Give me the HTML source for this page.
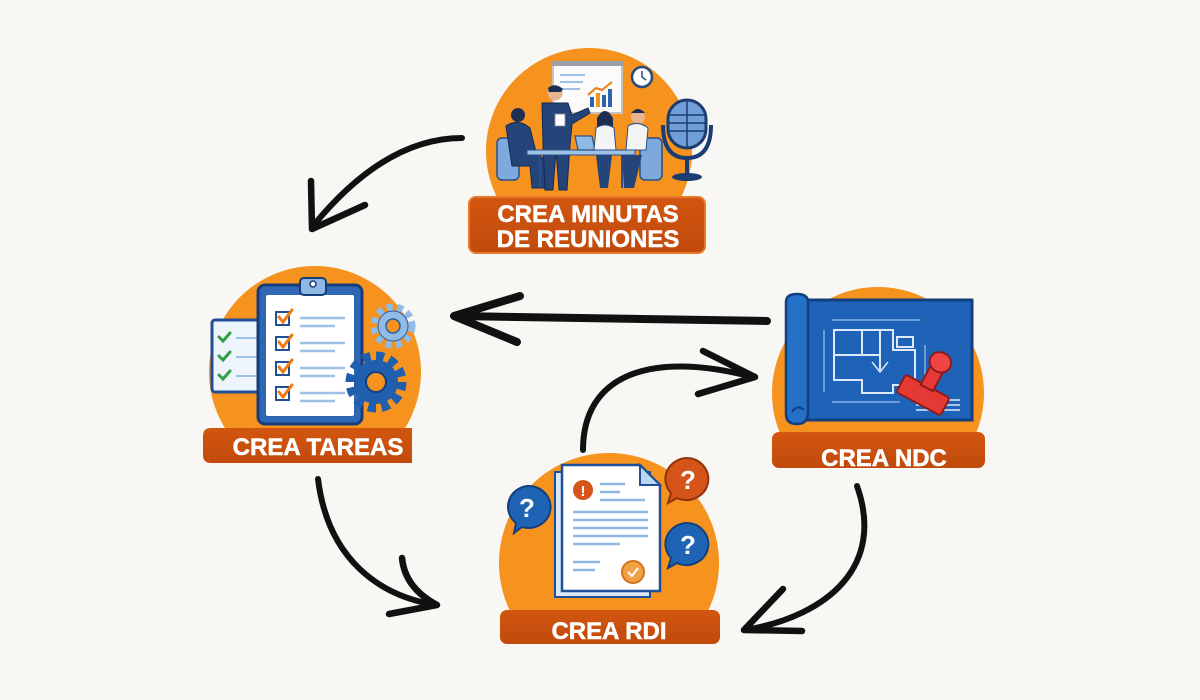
<!DOCTYPE html>
<html><head><meta charset="utf-8"><style>
html,body{margin:0;padding:0;background:#f8f7f4;}
svg{display:block;}
.lbl{font-family:"Liberation Sans",Arial,sans-serif;font-weight:bold;font-size:24px;fill:#ffffff;stroke:#ffffff;stroke-width:0.5;text-anchor:middle;}
</style></head><body>
<svg width="1200" height="700" viewBox="0 0 1200 700" xmlns="http://www.w3.org/2000/svg">
<defs>
<clipPath id="c1"><rect x="0" y="0" width="1200" height="250"/></clipPath>
<clipPath id="c2"><rect x="0" y="200" width="1200" height="260"/></clipPath>
<clipPath id="c3"><rect x="0" y="200" width="1200" height="265"/></clipPath>
<clipPath id="c4"><rect x="0" y="400" width="1200" height="240"/></clipPath>
<linearGradient id="lg" x1="0" y1="0" x2="0" y2="1"><stop offset="0" stop-color="#d2560f"/><stop offset="1" stop-color="#c14a0c"/></linearGradient>
</defs>
<rect width="1200" height="700" fill="#f8f7f4"/>

<!-- ARROWS -->
<g fill="none" stroke="#111" stroke-linecap="round" stroke-linejoin="round">
<path d="M462,138 Q385,138 313,226" stroke-width="6"/>
<path d="M311,181 L312,229 L365,205" stroke-width="6.5"/>
<path d="M767,321 Q600,318 456,316" stroke-width="8"/>
<path d="M520,296 L454,316 L517,342" stroke-width="8"/>
<path d="M583,450 C583,375 650,350 753,377" stroke-width="6"/>
<path d="M703,351 L755,377 L698,394" stroke-width="6.5"/>
<path d="M318,479 C328,560 380,596 436,605" stroke-width="6"/>
<path d="M402,558 Q405,588 437,605 L389,614" stroke-width="6.5"/>
<path d="M857,486 C885,565 830,615 746,630" stroke-width="6"/>
<path d="M783,589 L744,630 L802,631" stroke-width="6.5"/>
</g>

<!-- NODE 1 : MINUTAS -->
<g clip-path="url(#c1)"><circle cx="589" cy="151" r="103" fill="#f6921e"/></g>
<rect x="553" y="63" width="69" height="50" fill="#fbfbfb" stroke="#c8c2b8" stroke-width="2"/>
<rect x="551" y="61" width="73" height="5" fill="#9aa0a8"/>
<g stroke="#9cc0e6" stroke-width="2"><line x1="560" y1="75" x2="585" y2="75"/><line x1="560" y1="82" x2="583" y2="82"/><line x1="560" y1="89" x2="580" y2="89"/></g>
<rect x="590" y="97" width="4" height="10" fill="#2c64b0"/><rect x="596" y="93" width="4" height="14" fill="#f6921e"/><rect x="602" y="95" width="4" height="12" fill="#2c64b0"/><rect x="608" y="89" width="4" height="18" fill="#2c64b0"/>
<path d="M588,95 L596,88 L602,90 L612,82" fill="none" stroke="#f07a10" stroke-width="2"/>
<circle cx="642" cy="77" r="10" fill="#fff" stroke="#2a4a7a" stroke-width="2.5"/>
<path d="M642,71 L642,77 L646,80" stroke="#2a4a7a" stroke-width="1.5" fill="none"/>
<rect x="497" y="138" width="22" height="42" rx="5" fill="#7ea9dc" stroke="#2a4f8a" stroke-width="1.5"/>
<rect x="640" y="138" width="22" height="42" rx="5" fill="#7ea9dc" stroke="#2a4f8a" stroke-width="1.5"/>
<circle cx="518" cy="115" r="7" fill="#1d2f50"/>
<path d="M506,126 Q518,118 530,128 L536,152 L545,160 L545,188 L532,188 L530,166 L512,166 Z" fill="#24447a" stroke="#142a52" stroke-width="1"/>
<circle cx="555" cy="93" r="7.5" fill="#e7b48e"/>
<path d="M548,88 Q555,82 563,89 L561,92 L549,92 Z" fill="#1d2f50"/>
<path d="M542,103 L568,103 L572,115 L588,108 L590,113 L572,124 L570,145 L567,190 L559,190 L556,150 L553,190 L545,190 L543,145 Z" fill="#24447a" stroke="#142a52" stroke-width="1"/>
<rect x="555" y="114" width="10" height="12" fill="#fff" stroke="#888" stroke-width="0.8"/>
<rect x="527" y="150" width="108" height="5" fill="#9cc3e6" stroke="#2a4f8a" stroke-width="1"/>
<line x1="540" y1="155" x2="540" y2="188" stroke="#2a4f8a" stroke-width="2"/>
<line x1="622" y1="155" x2="622" y2="188" stroke="#2a4f8a" stroke-width="2"/>
<path d="M575,136 L592,136 L595,150 L578,150 Z" fill="#8fb8e4" stroke="#2a4f8a" stroke-width="1.2"/>
<circle cx="605" cy="118" r="7" fill="#e7b48e"/>
<path d="M597,118 Q605,104 613,118 L613,130 L597,130 Z" fill="#1d2f50"/>
<path d="M596,128 Q605,122 614,128 L616,150 L594,150 Z" fill="#f4f4f4" stroke="#2a4f8a" stroke-width="1"/>
<path d="M596,155 L612,155 L608,188 L600,188 Z" fill="#24447a"/>
<circle cx="638" cy="117" r="7" fill="#e7b48e"/>
<path d="M631,113 Q638,105 645,113 Z" fill="#1d2f50"/>
<path d="M628,126 Q638,120 648,128 L646,150 L626,150 Z" fill="#f4f4f4" stroke="#2a4f8a" stroke-width="1"/>
<path d="M622,155 L642,155 L634,188 L624,188 Z" fill="#24447a"/>
<rect x="668" y="100" width="38" height="48" rx="19" fill="#6f9fd6" stroke="#1b3d72" stroke-width="3"/>
<g stroke="#1b3d72" stroke-width="1.5"><line x1="670" y1="115" x2="704" y2="115"/><line x1="669" y1="123" x2="705" y2="123"/><line x1="669" y1="131" x2="705" y2="131"/><line x1="687" y1="101" x2="687" y2="147"/></g>
<path d="M663,125 Q663,158 687,158 Q711,158 711,125" fill="none" stroke="#1b3d72" stroke-width="4"/>
<line x1="687" y1="158" x2="687" y2="174" stroke="#1b3d72" stroke-width="4"/>
<ellipse cx="687" cy="177" rx="15" ry="4" fill="#1b3d72"/>
<rect x="469" y="197" width="236" height="56" rx="7" fill="url(#lg)" stroke="#e8782a" stroke-width="2"/>
<text class="lbl" x="588" y="222">CREA MINUTAS</text>
<text class="lbl" x="588" y="247">DE REUNIONES</text>

<!-- NODE 2 : TAREAS -->
<g clip-path="url(#c2)"><circle cx="315" cy="372" r="106" fill="#f6921e"/></g>
<rect x="212" y="320" width="50" height="72" rx="3" fill="#eef4fb" stroke="#1f4f96" stroke-width="3"/>
<g stroke="#2fa045" stroke-width="3" fill="none" stroke-linecap="round"><path d="M219,337 L223,341 L230,333"/><path d="M219,356 L223,360 L230,352"/><path d="M219,375 L223,379 L230,371"/></g>
<g stroke="#9cc0e6" stroke-width="2"><line x1="236" y1="338" x2="258" y2="338"/><line x1="236" y1="357" x2="258" y2="357"/><line x1="236" y1="376" x2="258" y2="376"/></g>
<rect x="258" y="285" width="104" height="139" rx="7" fill="#2f67b4" stroke="#163d7a" stroke-width="3"/>
<rect x="266" y="295" width="88" height="121" rx="2" fill="#ffffff"/>
<rect x="300" y="278" width="26" height="17" rx="4" fill="#8fb8e4" stroke="#163d7a" stroke-width="2"/>
<circle cx="313" cy="284" r="3" fill="#fff" stroke="#163d7a" stroke-width="1.5"/>
<g fill="#fff" stroke="#1f4f96" stroke-width="2"><rect x="276" y="312" width="13" height="13"/><rect x="276" y="337" width="13" height="13"/><rect x="276" y="362" width="13" height="13"/><rect x="276" y="387" width="13" height="13"/></g>
<g stroke="#f07a10" stroke-width="3" fill="none" stroke-linecap="round"><path d="M279,317 L283,322 L292,310"/><path d="M279,342 L283,347 L292,335"/><path d="M279,367 L283,372 L292,360"/><path d="M279,392 L283,397 L292,385"/></g>
<g stroke="#9cc0e6" stroke-width="2.5"><line x1="300" y1="318" x2="345" y2="318"/><line x1="300" y1="326" x2="335" y2="326"/><line x1="300" y1="343" x2="345" y2="343"/><line x1="300" y1="351" x2="335" y2="351"/><line x1="300" y1="368" x2="345" y2="368"/><line x1="300" y1="376" x2="335" y2="376"/><line x1="300" y1="393" x2="345" y2="393"/><line x1="300" y1="401" x2="335" y2="401"/></g>
<circle cx="393" cy="326" r="19" fill="none" stroke="#8fbbe6" stroke-width="7" stroke-dasharray="6 4.4"/>
<circle cx="393" cy="326" r="15" fill="#8fbbe6" stroke="#2f5f9e" stroke-width="1"/>
<circle cx="393" cy="326" r="7" fill="#f6921e" stroke="#2f5f9e" stroke-width="1.5"/>
<circle cx="376" cy="382" r="26" fill="none" stroke="#1f5fae" stroke-width="9" stroke-dasharray="8 5.6"/>
<circle cx="376" cy="382" r="22" fill="#1f5fae"/>
<circle cx="376" cy="382" r="10" fill="#f6921e" stroke="#143f80" stroke-width="2"/>
<path d="M211,428 L412,428 L412,463 L211,463 Q203,463 203,455 L203,436 Q203,428 211,428 Z" fill="url(#lg)"/>
<text class="lbl" x="318" y="455">CREA TAREAS</text>

<!-- NODE 3 : NDC -->
<g clip-path="url(#c3)"><circle cx="878" cy="393" r="106" fill="#f6921e"/></g>
<rect x="790" y="300" width="182" height="120" fill="#1e63b8" stroke="#133f7e" stroke-width="3"/>
<path d="M786,302 Q786,294 797,294 Q808,294 808,302 L808,412 Q808,424 797,424 Q786,424 786,414 Z" fill="#2470c6" stroke="#133f7e" stroke-width="2.5"/>
<path d="M792,412 Q797,404 804,410" fill="none" stroke="#133f7e" stroke-width="2"/>
<g fill="none" stroke="#dbe9fb" stroke-width="2">
<path d="M834,330 L893,330 L893,350 L915,350 L915,385 L893,385 L893,393 L862,393 L862,380 L834,380 Z"/>
<line x1="834" y1="355" x2="880" y2="355"/>
<line x1="862" y1="330" x2="862" y2="355"/>
<line x1="880" y1="330" x2="880" y2="370"/>
<path d="M872,362 L880,372 L888,362" stroke-width="1.5"/>
<rect x="897" y="337" width="16" height="10"/>
</g>
<g stroke="#9cc3ee" stroke-width="1.2" fill="none"><line x1="832" y1="320" x2="920" y2="320"/><line x1="824" y1="330" x2="824" y2="392"/><line x1="832" y1="402" x2="900" y2="402"/><line x1="925" y1="345" x2="925" y2="385"/></g>
<g stroke="#dbe9fb" stroke-width="1.5"><line x1="916" y1="400" x2="960" y2="400"/><line x1="916" y1="405" x2="960" y2="405"/><line x1="916" y1="410" x2="960" y2="410"/></g>
<g transform="rotate(28 923 395)">
<rect x="898" y="385" width="50" height="20" rx="3" fill="#e53935" stroke="#8e1b1b" stroke-width="2"/>
<rect x="916" y="365" width="14" height="22" fill="#e53935" stroke="#8e1b1b" stroke-width="2"/>
<ellipse cx="923" cy="358" rx="11" ry="10" fill="#ef4444" stroke="#8e1b1b" stroke-width="2"/>
</g>
<rect x="772" y="432" width="213" height="36" rx="7" fill="url(#lg)"/>
<text class="lbl" x="884" y="466">CREA NDC</text>

<!-- NODE 4 : RDI -->
<g clip-path="url(#c4)"><circle cx="609" cy="563" r="110" fill="#f6921e"/></g>
<rect x="555" y="472" width="95" height="125" fill="#dbe8f7" stroke="#1f4f96" stroke-width="2"/>
<path d="M562,465 L640,465 L660,485 L660,591 L562,591 Z" fill="#ffffff" stroke="#1f4f96" stroke-width="2.5"/>
<path d="M640,465 L640,485 L660,485 Z" fill="#bcd6f0" stroke="#1f4f96" stroke-width="2"/>
<circle cx="583" cy="490" r="10" fill="#d4541a"/>
<text x="583" y="496" font-family="Liberation Sans,sans-serif" font-weight="bold" font-size="15" fill="#fff" text-anchor="middle">!</text>
<g stroke="#8fb8e4" stroke-width="2.5"><line x1="600" y1="484" x2="625" y2="484"/><line x1="600" y1="492" x2="620" y2="492"/><line x1="600" y1="500" x2="645" y2="500"/><line x1="573" y1="512" x2="648" y2="512"/><line x1="573" y1="520" x2="648" y2="520"/><line x1="573" y1="528" x2="648" y2="528"/><line x1="573" y1="536" x2="648" y2="536"/><line x1="573" y1="544" x2="620" y2="544"/><line x1="573" y1="562" x2="600" y2="562"/><line x1="573" y1="570" x2="595" y2="570"/></g>
<circle cx="633" cy="572" r="11" fill="#f2a245" stroke="#d0741c" stroke-width="2"/>
<path d="M628,572 L632,576 L638,568" fill="none" stroke="#fff" stroke-width="2"/>
<path d="M527,486 a22,21 0 1 1 -5,41 l-8,6 l2,-10 a22,21 0 0 1 11,-37 Z" fill="#1f63b4" stroke="#133f7e" stroke-width="2"/>
<text x="527" y="517" font-family="Liberation Sans,sans-serif" font-weight="bold" font-size="26" fill="#fff" text-anchor="middle">?</text>
<path d="M687,458 a22,21 0 1 1 -10,40 l-9,5 l3,-10 a22,21 0 0 1 16,-35 Z" fill="#d4541a" stroke="#8f330c" stroke-width="2"/>
<text x="688" y="489" font-family="Liberation Sans,sans-serif" font-weight="bold" font-size="26" fill="#fff" text-anchor="middle">?</text>
<path d="M687,523 a22,21 0 1 1 -10,40 l-9,5 l3,-10 a22,21 0 0 1 16,-35 Z" fill="#1f63b4" stroke="#133f7e" stroke-width="2"/>
<text x="688" y="554" font-family="Liberation Sans,sans-serif" font-weight="bold" font-size="26" fill="#fff" text-anchor="middle">?</text>
<rect x="500" y="610" width="220" height="34" rx="7" fill="url(#lg)"/>
<text class="lbl" x="609" y="639">CREA RDI</text>
</svg>
</body></html>
